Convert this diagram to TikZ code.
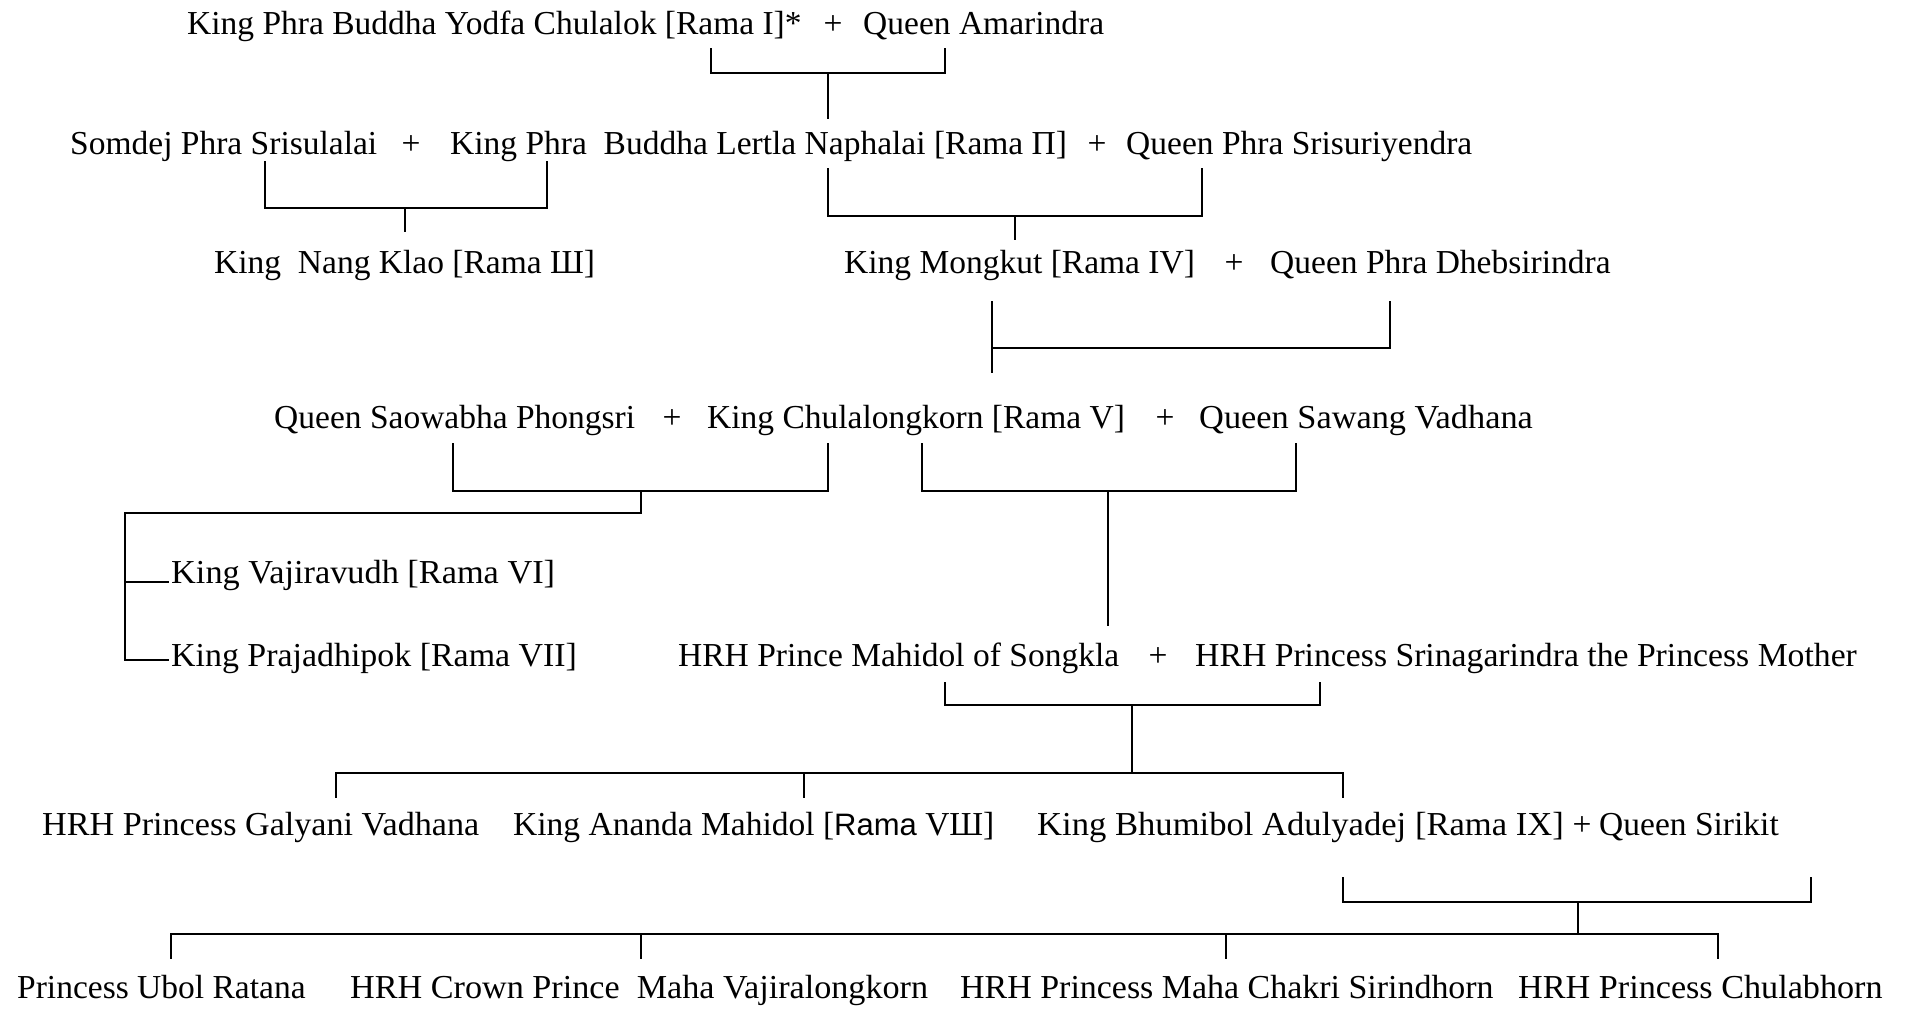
\documentclass[tikz,border=0pt]{standalone}
\usepackage{fontspec}
\usepackage{graphicx}
\setmainfont{Liberation Serif}
\setsansfont{Liberation Sans}
\newcommand{\xsc}[2]{\scalebox{#1}[1]{#2}}
\begin{document}
\begin{tikzpicture}[x=1pt,y=-1pt,
  person/.style={anchor=base west,inner sep=0pt,font=\fontsize{33.5}{40}\selectfont},
  plus/.style={anchor=base,inner sep=0pt,font=\fontsize{33.5}{40}\selectfont},
  link/.style={line width=1.5pt,line cap=rect}]
\useasboundingbox[fill=white] (0,0) rectangle (1905,1010);
% Row 1
\node[person] (r1) at (187,34) {King Phra Buddha Yodfa Chulalok [Rama I]*};
\node[plus] (p1) at (833,34) {+};
\node[person] (amarindra) at (863,34) {Queen Amarindra};
% Row 2
\node[person] (somdej) at (70,154) {Somdej Phra Srisulalai};
\node[plus] (p2a) at (411,154) {+};
\node[person] (r2) at (450,154) {King Phra\ \ Buddha Lertla Naphalai [Rama П]};
\node[plus] (p2b) at (1097,154) {+};
\node[person] (srisuriyendra) at (1126,154) {Queen Phra Srisuriyendra};
% Row 3
\node[person] (r3) at (214,273) {King\ \ Nang Klao [Rama Ш]};
\node[person] (r4) at (844,273) {King Mongkut [Rama IV]};
\node[plus] (p3) at (1234,273) {+};
\node[person] (dhebsirindra) at (1270,273) {Queen Phra Dhebsirindra};
% Row 4
\node[person] (saowabha) at (274,428) {Queen Saowabha Phongsri};
\node[plus] (p4a) at (672,428) {+};
\node[person] (r5) at (707,428) {King Chulalongkorn [Rama V]};
\node[plus] (p4b) at (1165,428) {+};
\node[person] (sawang) at (1199,428) {\xsc{1.025}{Queen Sawang Vadhana}};
% Row 5
\node[person] (r6) at (171,583) {\xsc{1.024}{King Vajiravudh [Rama VI]}};
\node[person] (r7) at (171,666) {\xsc{1.012}{King Prajadhipok [Rama VII]}};
\node[person] (mahidol) at (678,666) {HRH Prince Mahidol of Songkla};
\node[plus] (p5) at (1158,666) {+};
\node[person] (srinagarindra) at (1195,666) {\xsc{1.006}{HRH Princess Srinagarindra the Princess Mother}};
% Row 6
\node[person] (galyani) at (42,835) {\xsc{1.019}{HRH Princess Galyani Vadhana}};
\node[person] (r8) at (513,835) {King Ananda Mahidol [{\sffamily\fontsize{31}{36}\selectfont Rama} VШ]};
\node[person] (r9) at (1037,835) {\xsc{1.033}{King Bhumibol Adulyadej [Rama IX]}};
\node[plus] (p6) at (1582,835) {+};
\node[person] (sirikit) at (1599,835) {Queen Sirikit};
% Row 7
\node[person] (ubol) at (17,998) {Princess Ubol Ratana};
\node[person] (vajiralongkorn) at (350,998) {\xsc{1.02}{HRH Crown Prince\ \ Maha Vajiralongkorn}};
\node[person] (sirindhorn) at (960,998) {\xsc{1.013}{HRH Princess Maha Chakri Sirindhorn}};
\node[person] (chulabhorn) at (1518,998) {\xsc{1.02}{HRH Princess Chulabhorn}};

% connector coordinates
\coordinate (a1) at (711,49);  \coordinate (a2) at (945,49);  \coordinate (a3) at (828,118);
\coordinate (b1) at (265,162); \coordinate (b2) at (547,162); \coordinate (b3) at (405,231);
\coordinate (c1) at (828,169); \coordinate (c2) at (1202,169); \coordinate (c3) at (1015,239);
\coordinate (d1) at (992,302); \coordinate (d2) at (1390,302); \coordinate (d3) at (992,372);
\coordinate (e1) at (453,444); \coordinate (e2) at (828,444); \coordinate (e3) at (641,513);
\coordinate (e4) at (125,513); \coordinate (e5) at (168,582); \coordinate (e6) at (168,660);
\coordinate (f1) at (922,444); \coordinate (f2) at (1296,444); \coordinate (f3) at (1108,625);
\coordinate (g1) at (945,683); \coordinate (g2) at (1320,683); \coordinate (g3) at (1132,773);
\coordinate (g4) at (336,797); \coordinate (g5) at (804,797); \coordinate (g6) at (1343,797);
\coordinate (h1) at (1343,878); \coordinate (h2) at (1811,878); \coordinate (h3) at (1578,934);
\coordinate (h4) at (171,958); \coordinate (h5) at (641,958); \coordinate (h6) at (1226,958); \coordinate (h7) at (1718,958);

% Rama I + Amarindra -> Rama II
\draw[link] (a1) -- (711,73) -- (945,73) -- (a2);
\draw[link] (828,73) -- (a3);
% Somdej + Rama II -> Rama III
\draw[link] (b1) -- (265,208) -- (547,208) -- (b2);
\draw[link] (405,208) -- (b3);
% Rama II + Srisuriyendra -> Rama IV
\draw[link] (c1) -- (828,216) -- (1202,216) -- (c2);
\draw[link] (1015,216) -- (c3);
% Rama IV + Dhebsirindra -> Rama V
\draw[link] (d2) -- (1390,348) -- (992,348);
\draw[link] (d1) -- (d3);
% Saowabha + Rama V -> Rama VI, VII
\draw[link] (e1) -- (453,491) -- (828,491) -- (e2);
\draw[link] (641,491) -- (e3) -- (e4) -- (125,660) -- (e6);
\draw[link] (125,582) -- (e5);
% Rama V + Sawang -> Mahidol
\draw[link] (f1) -- (922,491) -- (1296,491) -- (f2);
\draw[link] (1108,491) -- (f3);
% Mahidol + Srinagarindra -> children
\draw[link] (g1) -- (945,705) -- (1320,705) -- (g2);
\draw[link] (1132,705) -- (g3);
\draw[link] (g4) -- (336,773) -- (1343,773) -- (g6);
\draw[link] (804,773) -- (g5);
% Bhumibol + Sirikit -> children
\draw[link] (h1) -- (1343,902) -- (1811,902) -- (h2);
\draw[link] (1578,902) -- (h3);
\draw[link] (h4) -- (171,934) -- (1718,934) -- (h7);
\draw[link] (641,934) -- (h5);
\draw[link] (1226,934) -- (h6);
\end{tikzpicture}
\end{document}
